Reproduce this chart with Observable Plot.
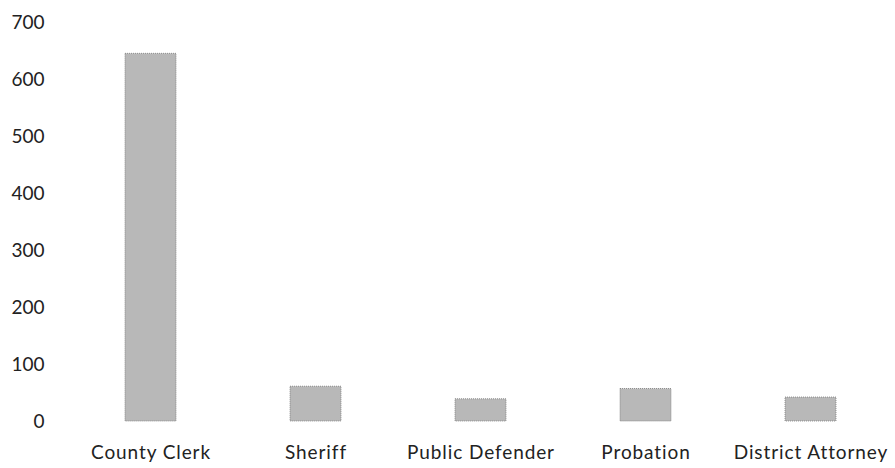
<!DOCTYPE html>
<html>
<head>
<meta charset="utf-8">
<script src="https://cdn.jsdelivr.net/npm/d3@7"></script>
<script src="https://cdn.jsdelivr.net/npm/@observablehq/plot@0.6"></script>
<style>
  html, body { margin: 0; padding: 0; background: #fff; }
  .xax text { letter-spacing: 0.9px; }
</style>
</head>
<body>
<div id="chart"></div>
<script>
const categories = ["County Clerk", "Sheriff", "Public Defender", "Probation", "District Attorney"];
const values = [645, 61, 39, 57, 42];
const yTicks = [0, 100, 200, 300, 400, 500, 600, 700];

const data = categories.map((c, i) => ({category: c, value: values[i]}));

const chart = Plot.plot({
  width: 895,
  height: 468,
  marginLeft: 66,
  marginRight: 0,
  marginTop: 22,
  marginBottom: 47,
  style: {fontFamily: "Lato, sans-serif", fontSize: "19px", color: "#222", background: "#fff"},
  x: {domain: categories, paddingInner: 0.69, paddingOuter: 0.345, label: null},
  y: {domain: [0, 700], label: null},
  marks: [
    Plot.barY(data, {x: "category", y: "value", fill: "#b8b8b8", stroke: "#7a7a7a", strokeWidth: 0.8, strokeDasharray: "1,1"}),
    Plot.axisY({ticks: yTicks, tickSize: 0, tickPadding: 22, label: null, fontSize: 19}),
    Plot.axisX({tickSize: 0, tickPadding: 24, label: null, fontSize: 19, className: "xax"})
  ]
});
document.getElementById("chart").appendChild(chart);
</script>
</body>
</html>
